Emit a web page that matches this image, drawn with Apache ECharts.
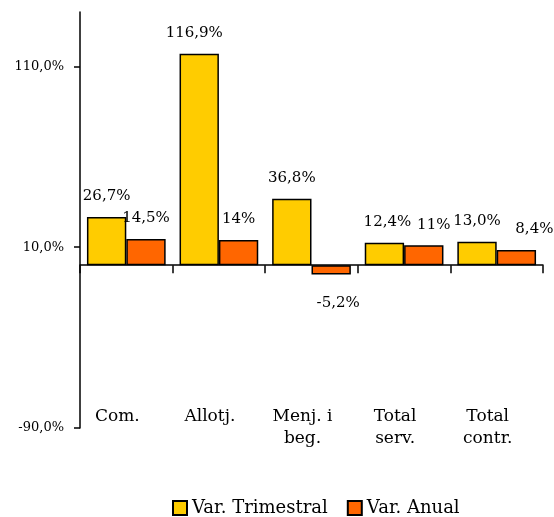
<!DOCTYPE html>
<html><head><meta charset="utf-8">
<script src="https://cdn.jsdelivr.net/npm/echarts@6/dist/echarts.min.js"></script>
<style>html,body{margin:0;padding:0;background:#fff}#c{width:554px;height:517px}</style>
</head><body><div id="c"></div>
<script>
const categories = ['Com.', 'Allotj.', 'Menj. i\nbeg.', 'Total\nserv.', 'Total\ncontr.'];
const seriesNames = ['Var. Trimestral', 'Var. Anual'];
const trimestral = [26.7, 116.9, 36.8, 12.4, 13.0];
const anual = [14.5, 14, -5.2, 11, 8.4];
const trimestralLabels = ['26,7%', '116,9%', '36,8%', '12,4%', '13,0%'];
const anualLabels = ['14,5%', '14%', '-5,2%', '11%', '8,4%'];
const yTicks = [-90, 10, 110];
const yTickLabels = ['-90,0%', '10,0%', '110,0%'];

const FONT = 'DejaVu Serif';
const chart = echarts.init(document.getElementById('c'), null, {renderer: 'canvas'});

function makeData(values, extraOffsets) {
  return values.map((v, i) => {
    const item = {value: v};
    const lab = {};
    if (v < 0) { lab.position = 'bottom'; lab.distance = 21; }
    if (extraOffsets && extraOffsets[i]) lab.offset = extraOffsets[i];
    item.label = lab;
    return item;
  });
}

const option = {
  animation: false,
  backgroundColor: '#fff',
  textStyle: {fontFamily: FONT, color: '#000'},
  grid: {left: 80, right: 11, top: 12, bottom: 89, containLabel: false, outerBoundsMode: 'none'},
  legend: {
    top: 499, left: 172, padding: 0,
    itemWidth: 14, itemHeight: 14, itemGap: 19,
    textStyle: {fontFamily: FONT, fontSize: 18, color: '#000'},
    data: seriesNames.map(n => ({name: n, icon: 'rect'}))
  },
  xAxis: [
    {
      type: 'category',
      data: categories,
      axisLine: {onZero: true, lineStyle: {color: '#000', width: 1.5}},
      axisTick: {show: true, length: 8, lineStyle: {color: '#000', width: 1.5}},
      axisLabel: {show: false},
      splitLine: {show: false}
    },
    {
      type: 'category',
      data: categories,
      position: 'bottom',
      offset: -22,
      axisLine: {show: false, onZero: false},
      axisTick: {show: false},
      axisLabel: {show: true, interval: 0, margin: 0, padding: [0, 18, 0, 0], fontFamily: FONT, fontSize: 17, lineHeight: 22, color: '#000'},
      splitLine: {show: false}
    }
  ],
  yAxis: {
    type: 'value',
    min: -90, max: 140,
    axisLine: {show: true, lineStyle: {color: '#000', width: 1.5}},
    axisTick: {show: true, length: 6, customValues: yTicks, lineStyle: {color: '#000', width: 1.5}},
    axisLabel: {
      customValues: yTicks, margin: 16, fontFamily: FONT, fontSize: 13, color: '#000',
      formatter: v => { const i = yTicks.indexOf(v); return i >= 0 ? yTickLabels[i] : ''; }
    },
    splitLine: {show: false}
  },
  series: [
    {
      name: seriesNames[0], type: 'bar', barGap: '0%', barCategoryGap: '15%',
      itemStyle: {color: '#FFCC00', borderColor: '#000', borderWidth: 1.5},
      label: {show: true, position: 'top', distance: 13, fontFamily: FONT, fontSize: 15, color: '#000',
        formatter: p => trimestralLabels[p.dataIndex]},
      data: makeData(trimestral, [null, [-5, 0], null, [3, 0], null])
    },
    {
      name: seriesNames[1], type: 'bar', barGap: '0%', barCategoryGap: '15%',
      itemStyle: {color: '#FF6600', borderColor: '#000', borderWidth: 1.5},
      label: {show: true, position: 'top', distance: 13, fontFamily: FONT, fontSize: 15, color: '#000',
        formatter: p => anualLabels[p.dataIndex]},
      data: makeData(anual, [null, null, [7, 0], [10, 0], [18, 0]])
    }
  ]
};
chart.setOption(option);
</script></body></html>
